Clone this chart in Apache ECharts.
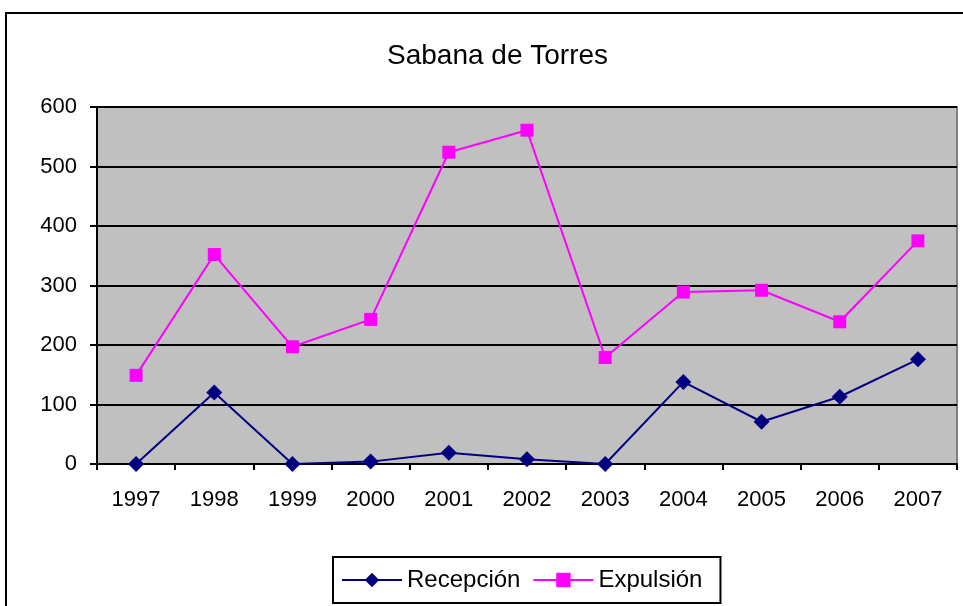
<!DOCTYPE html>
<html>
<head>
<meta charset="utf-8">
<script src="https://cdn.jsdelivr.net/npm/echarts@6/dist/echarts.min.js"></script>
<style>
  html, body { margin: 0; padding: 0; background: #fff; }
  #chart { width: 963px; height: 606px; }
</style>
</head>
<body>
<div id="chart"></div>
<script>
var years = ['1997', '1998', '1999', '2000', '2001', '2002', '2003', '2004', '2005', '2006', '2007'];
var recepcion = [0, 120, 0, 4, 19, 8, 0, 138, 71, 113, 176];
var expulsion = [149, 352, 197, 243, 524, 561, 179, 289, 292, 239, 375];

var font = 'Liberation Sans, Arial, sans-serif';
var myChart = echarts.init(document.getElementById('chart'));
var option = {
    animation: false,
    backgroundColor: '#fff',
    title: {
        text: 'Sabana de Torres',
        left: 382,
        top: 37,
        textStyle: { fontFamily: font, fontSize: 28, fontWeight: 'normal', color: '#000' }
    },
    graphic: [{
        type: 'rect',
        shape: { x: 6, y: 13, width: 1000, height: 700 },
        style: { fill: 'none', stroke: '#000', lineWidth: 2 },
        silent: true
    }],
    grid: {
        left: 97, right: 6, top: 107, bottom: 142,
        show: true,
        backgroundColor: '#c0c0c0',
        borderColor: '#808080',
        borderWidth: 2
    },
    legend: {
        left: 333,
        top: 557,
        padding: [11, 18, 11, 8],
        borderColor: '#000',
        borderWidth: 2,
        itemWidth: 60,
        itemHeight: 18,
        itemGap: 12,
        textStyle: { fontFamily: font, fontSize: 24, color: '#000' },
        data: ['Recepción', 'Expulsión']
    },
    xAxis: {
        type: 'category',
        data: years,
        boundaryGap: true,
        axisLine: { lineStyle: { color: '#000', width: 2 } },
        axisTick: { show: true, length: 6, lineStyle: { color: '#000', width: 2 } },
        axisLabel: { fontFamily: font, fontSize: 22, color: '#000', margin: 25 }
    },
    yAxis: {
        type: 'value',
        min: 0, max: 600, interval: 100,
        axisLine: { show: true, lineStyle: { color: '#000', width: 2 } },
        axisTick: { show: true, length: 7, lineStyle: { color: '#000', width: 2 } },
        axisLabel: { fontFamily: font, fontSize: 22, color: '#000', margin: 20 },
        splitLine: { show: true, lineStyle: { color: '#000', width: 2 } }
    },
    series: [{
        name: 'Recepción',
        type: 'line',
        data: recepcion,
        symbol: 'diamond',
        symbolSize: 16,
        color: '#000080',
        lineStyle: { color: '#000080', width: 2 },
        itemStyle: { color: '#000080' }
    }, {
        name: 'Expulsión',
        type: 'line',
        data: expulsion,
        symbol: 'rect',
        symbolSize: 13,
        color: '#ff00ff',
        lineStyle: { color: '#ff00ff', width: 2 },
        itemStyle: { color: '#ff00ff' }
    }]
};
myChart.setOption(option);
</script>
</body>
</html>
